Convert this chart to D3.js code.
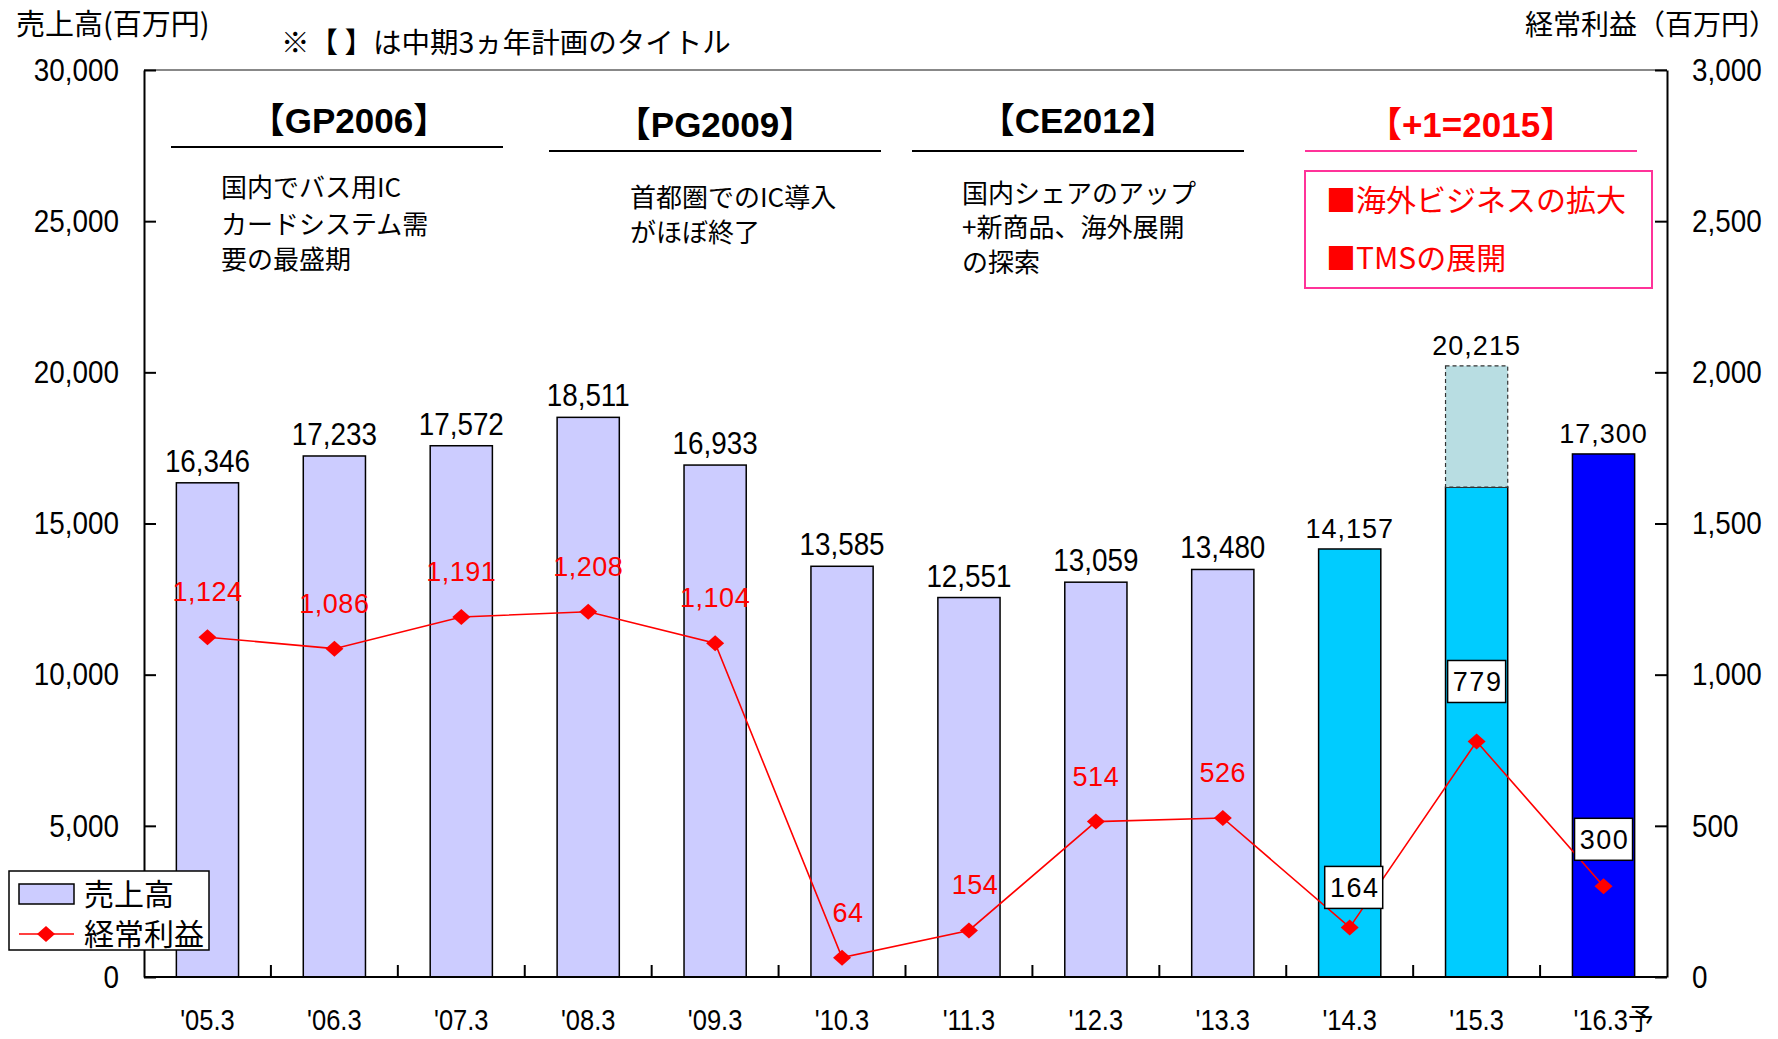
<!DOCTYPE html>
<html lang="ja">
<head>
<meta charset="utf-8">
<title>売上高・経常利益</title>
<script src="https://cdnjs.cloudflare.com/ajax/libs/d3/7.8.5/d3.min.js"></script>
<style>
body { margin: 0; background: #fff; }
svg text { font-family: "Liberation Sans", Arial, sans-serif; fill: #000; }
svg text.jp { font-family: "Noto Sans CJK JP", sans-serif; }
svg text.num { font-family: "Liberation Sans", "Noto Sans CJK JP", sans-serif; }
svg text.plan { font-family: "Liberation Sans", "Noto Sans CJK JP", sans-serif; font-weight: bold; }
</style>
</head>
<body>
<script>

// data
var years = ["'05.3", "'06.3", "'07.3", "'08.3", "'09.3", "'10.3", "'11.3", "'12.3", "'13.3", "'14.3", "'15.3", "'16.3予"];
var sales = [16346, 17233, 17572, 18511, 16933, 13585, 12551, 13059, 13480, 14157, 20215, 17300];
var salesSolid15 = 16200; // solid part of the '15.3 bar, rest is dashed
var profit = [1124, 1086, 1191, 1208, 1104, 64, 154, 514, 526, 164, 779, 300];
var leftTicks = [0, 5000, 10000, 15000, 20000, 25000, 30000];
var rightTicks = [0, 500, 1000, 1500, 2000, 2500, 3000];

var plans = ["【GP2006】", "【PG2009】", "【CE2012】", "【+1=2015】"];
var planNotes = [
	["国内でバス用IC", "カードシステム需", "要の最盛期"],
	["首都圏でのIC導入", "がほぼ終了"],
	["国内シェアのアップ", "+新商品、海外展開", "の探索"],
	["■海外ビジネスの拡大", "■TMSの展開"]
];

var W = 1778, H = 1039;
var pLeft = 144, pRight = 1667, pTop = 70, pBottom = 977;

var svg = d3.select("body").append("svg")
	.attr("width", W)
	.attr("height", H);

var x = d3.scaleBand()
	.domain(years)
	.range([pLeft, pRight])
	.paddingInner(0.51)
	.paddingOuter(0.255);

var yL = d3.scaleLinear().domain([0, 30000]).range([pBottom, pTop]);
var yR = d3.scaleLinear().domain([0, 3000]).range([pBottom, pTop]);

var fmt = d3.format(",");

// narrow the numbers a bit (no condensed font installed)
function squeeze(sel, sx){
	sel.each(function(){
		var t = d3.select(this);
		var tx = +t.attr("x") || 0, ty = +t.attr("y") || 0;
		t.attr("x", 0).attr("y", 0)
			.attr("transform", "translate(" + tx + "," + ty + ") scale(" + sx + ",1)");
	});
}

// top border of plot area
svg.append("line")
	.attr("x1", pLeft).attr("x2", pRight)
	.attr("y1", pTop).attr("y2", pTop)
	.style("stroke", "#888").style("stroke-width", 2);

// bars
function barColor(i){
	if(i == 11) return "#0000ff";
	if(i >= 9) return "#00ccff";
	return "#ccccff";
}

svg.append("g").selectAll("rect")
	.data(sales)
	.enter()
	.append("rect")
	.attr("x", function(d, i){ return x(years[i]); })
	.attr("width", x.bandwidth())
	.attr("y", function(d, i){ return i == 10 ? yL(salesSolid15) : yL(d); })
	.attr("height", function(d, i){ return pBottom - (i == 10 ? yL(salesSolid15) : yL(d)); })
	.style("fill", function(d, i){ return barColor(i); })
	.style("stroke", "#000")
	.style("stroke-width", 1.5);

// dashed upper part of '15.3
svg.append("rect")
	.attr("x", x(years[10]))
	.attr("width", x.bandwidth())
	.attr("y", yL(sales[10]))
	.attr("height", yL(salesSolid15) - yL(sales[10]))
	.style("fill", "#b8dde2")
	.style("stroke", "#333")
	.style("stroke-width", 1.2)
	.style("stroke-dasharray", "4,3");

// bar value labels
var barLab = svg.append("g").selectAll("text")
	.data(sales)
	.enter()
	.append("text")
	.attr("x", function(d, i){ return x(years[i]) + x.bandwidth() / 2; })
	.attr("y", function(d){ return yL(d) - 11; })
	.attr("text-anchor", "middle")
	.style("font-size", function(d, i){ return i >= 9 ? "27px" : "32px"; })
	.style("letter-spacing", function(d, i){ return i >= 9 ? "1px" : "0px"; })
	.text(function(d){ return fmt(d); });
squeeze(barLab.filter(function(d, i){ return i < 9; }), 0.87);

// axes
var axL = d3.axisLeft(yL).tickValues(leftTicks).tickFormat(fmt).tickSizeInner(-12).tickSizeOuter(0).tickPadding(25);
var axR = d3.axisRight(yR).tickValues(rightTicks).tickFormat(fmt).tickSizeInner(-12).tickSizeOuter(0).tickPadding(25);

var gL = svg.append("g").attr("transform", "translate(" + pLeft + ",0)").call(axL);
var gR = svg.append("g").attr("transform", "translate(" + pRight + ",0)").call(axR);
[gL, gR].forEach(function(g){
	g.attr("font-family", null).attr("font-size", null);
	g.selectAll("path, line").style("stroke", "#000").style("stroke-width", 2);
	g.selectAll("text").style("font-size", "32px");
	squeeze(g.selectAll("text"), 0.87);
});

// bottom axis line and category boundary ticks
svg.append("line")
	.attr("x1", pLeft).attr("x2", pRight)
	.attr("y1", pBottom).attr("y2", pBottom)
	.style("stroke", "#000").style("stroke-width", 2);

svg.append("g").selectAll("line")
	.data(years.slice(1))
	.enter()
	.append("line")
	.attr("x1", function(d){ return x(d) - x.step() * x.paddingInner() / 2; })
	.attr("x2", function(d){ return x(d) - x.step() * x.paddingInner() / 2; })
	.attr("y1", pBottom)
	.attr("y2", pBottom - 12)
	.style("stroke", "#000").style("stroke-width", 2);

var xLab = svg.append("g").selectAll("text")
	.data(years)
	.enter()
	.append("text")
	.attr("class", "num")
	.attr("x", function(d){ return x(d) + x.bandwidth() / 2 + (d.indexOf("予") >= 0 ? 10 : 0); })
	.attr("y", 1030)
	.attr("text-anchor", "middle")
	.style("font-size", "29px")
	.text(function(d){ return d; });
squeeze(xLab, 0.88);

// profit line
var line = d3.line()
	.x(function(d, i){ return x(years[i]) + x.bandwidth() / 2; })
	.y(function(d){ return yR(d); });

svg.append("path")
	.datum(profit)
	.attr("d", line)
	.style("fill", "none")
	.style("stroke", "#ff0000")
	.style("stroke-width", 1.6);

function diamond(cx, cy){
	return "M" + (cx - 9) + "," + cy + "L" + cx + "," + (cy - 8) + "L" + (cx + 9) + "," + cy + "L" + cx + "," + (cy + 8) + "Z";
}

svg.append("g").selectAll("path")
	.data(profit)
	.enter()
	.append("path")
	.attr("d", function(d, i){ return diamond(x(years[i]) + x.bandwidth() / 2, yR(d)); })
	.style("fill", "#ff0000");

// profit labels
profit.forEach(function(d, i){
	var cx = x(years[i]) + x.bandwidth() / 2;
	var cy = yR(d);
	if(i < 9){
		svg.append("text")
			.attr("x", cx + (i == 5 || i == 6 ? 6 : 0))
			.attr("y", cy - 36)
			.attr("text-anchor", "middle")
			.style("font-size", "27px")
			.style("letter-spacing", "0.5px")
			.style("fill", "#ff0000")
			.text(fmt(d));
	}
	else{
		var off = i == 10 ? 60 : (i == 9 ? 40 : 47);
		var bx = cx + (i == 9 ? 4 : 0);
		svg.append("rect")
			.attr("x", bx - 29).attr("y", cy - off - 21)
			.attr("width", 58).attr("height", 42)
			.style("fill", "#fff").style("stroke", "#000").style("stroke-width", 1.5);
		svg.append("text")
			.attr("x", bx + 1).attr("y", cy - off + 10)
			.attr("text-anchor", "middle")
			.style("font-size", "27px")
			.style("letter-spacing", "1.5px")
			.text(fmt(d));
	}
});

// plan titles, underlines, notes
var planX = [171, 549, 912, 1305];
var planW = 332;
plans.forEach(function(p, k){
	var red = k == 3;
	svg.append("text")
		.attr("class", "plan")
		.attr("x", planX[k] + planW / 2 + (k == 0 ? 12 : 0))
		.attr("y", (k == 0 || k == 2 ? 120 : 124) + 13)
		.attr("text-anchor", "middle")
		.style("font-size", "35px")
		.style("fill", red ? "#ff0000" : "#000")
		.text(p);
	svg.append("line")
		.attr("x1", planX[k]).attr("x2", planX[k] + planW)
		.attr("y1", k == 0 ? 147 : 151).attr("y2", k == 0 ? 147 : 151)
		.style("stroke", red ? "#ff3399" : "#000")
		.style("stroke-width", 2);
});

var noteX = [221, 630, 962, 1326];
var noteY = [[187, 224, 259], [197, 232], [193, 227, 262], [201, 259]];
planNotes.forEach(function(lines, k){
	lines.forEach(function(t, j){
		svg.append("text")
			.attr("class", "jp")
			.attr("x", noteX[k])
			.attr("y", noteY[k][j] + 10)
			.style("font-size", k == 3 ? "30px" : "26px")
			.style("fill", k == 3 ? "#ff0000" : "#000")
			.text(t);
	});
});

svg.append("rect")
	.attr("x", 1305).attr("y", 171)
	.attr("width", 347).attr("height", 117)
	.style("fill", "none")
	.style("stroke", "#ff3399")
	.style("stroke-width", 2);

// titles
svg.append("text").attr("class", "jp")
	.attr("x", 16).attr("y", 35)
	.style("font-size", "29px")
	.text("売上高(百万円)");

svg.append("text").attr("class", "jp")
	.attr("x", 281).attr("y", 53)
	.style("font-size", "28.5px")
	.text("※【 】は中期3ヵ年計画のタイトル");

svg.append("text").attr("class", "jp")
	.attr("x", 1777).attr("y", 35)
	.attr("text-anchor", "end")
	.style("font-size", "28px")
	.text("経常利益（百万円）");

// legend
var lg = svg.append("g");
lg.append("rect")
	.attr("x", 9).attr("y", 871).attr("width", 200).attr("height", 79)
	.style("fill", "#fff").style("stroke", "#000").style("stroke-width", 1.5);
lg.append("rect")
	.attr("x", 19).attr("y", 884).attr("width", 55).attr("height", 20)
	.style("fill", "#ccccff").style("stroke", "#000").style("stroke-width", 1.5);
lg.append("text").attr("class", "jp")
	.attr("x", 84).attr("y", 905)
	.style("font-size", "30px")
	.text("売上高");
lg.append("line")
	.attr("x1", 19).attr("x2", 74).attr("y1", 934).attr("y2", 934)
	.style("stroke", "#ff0000").style("stroke-width", 1.6);
lg.append("path")
	.attr("d", diamond(46, 934))
	.style("fill", "#ff0000");
lg.append("text").attr("class", "jp")
	.attr("x", 84).attr("y", 945)
	.style("font-size", "30px")
	.text("経常利益");

</script>
</body>
</html>
